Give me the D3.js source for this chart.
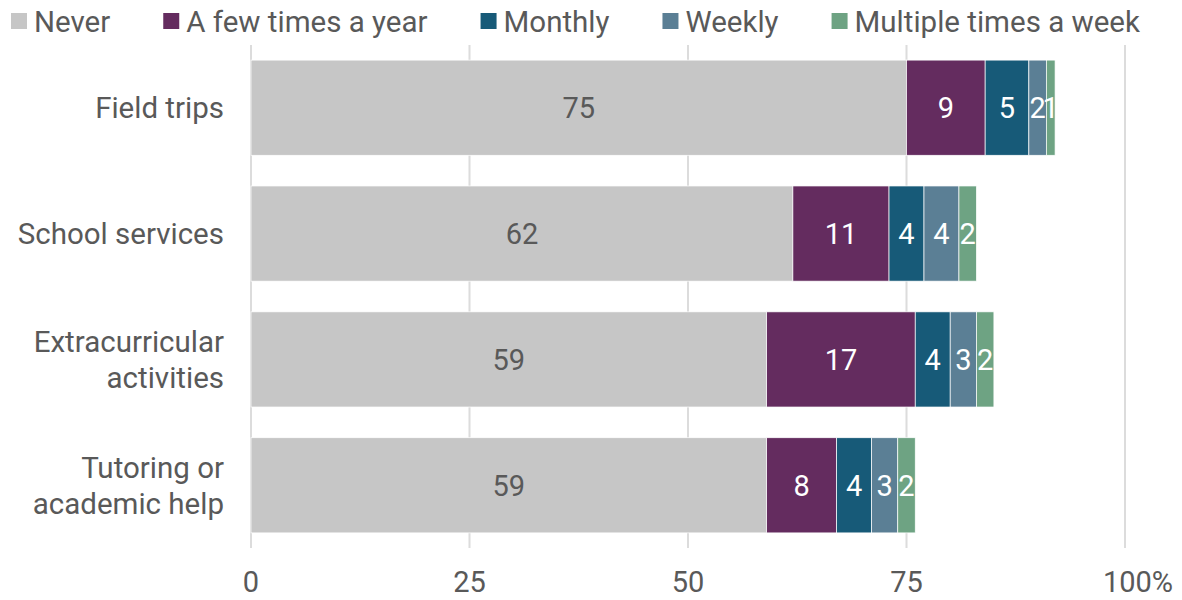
<!DOCTYPE html>
<html>
<head>
<meta charset="utf-8">
<script src="https://cdn.jsdelivr.net/npm/d3@7"></script>
<style>
	body { margin: 0; background: #fff; }
	svg { display: block; font-family: Roboto, sans-serif; }
</style>
</head>
<body>
<svg id="svg" width="1182" height="600"></svg>
<script>
// categories (top to bottom), label lines
const categories = ['Field trips', 'School services', 'Extracurricular activities', 'Tutoring or academic help'];
const categoryLines = [['Field trips'], ['School services'], ['Extracurricular', 'activities'], ['Tutoring or', 'academic help']];

// series
const seriesNames = ['Never', 'A few times a year', 'Monthly', 'Weekly', 'Multiple times a week'];
const seriesColors = ['#c6c6c6', '#642c5f', '#175a78', '#5b7f95', '#6ea383'];
const never = [75, 62, 59, 59];
const fewTimesYear = [9, 11, 17, 8];
const monthly = [5, 4, 4, 4];
const weekly = [2, 4, 3, 3];
const multipleWeek = [1, 2, 2, 2];

const xTicks = [0, 25, 50, 75, 100];
const textColor = '#595959';
const fontSize = 29.5;

const svg = d3.select('#svg');
const margin = { top: 45, left: 251, right: 57, bottom: 52 };
const W = 1182, H = 600;

const x = d3.scaleLinear().domain([0, 100]).range([margin.left, W - margin.right]);
const y = d3.scaleBand().domain(categories).range([margin.top, H - margin.bottom])
	.paddingInner(0.244).paddingOuter(0.12);

// rows for stacking
const rows = categories.map((c, i) => ({
	cat: c,
	'Never': never[i],
	'A few times a year': fewTimesYear[i],
	'Monthly': monthly[i],
	'Weekly': weekly[i],
	'Multiple times a week': multipleWeek[i]
}));
const stack = d3.stack().keys(seriesNames)(rows);

// gridlines
svg.append('g')
	.selectAll('line')
	.data(xTicks)
	.enter().append('line')
	.attr('x1', d => x(d)).attr('x2', d => x(d))
	.attr('y1', margin.top).attr('y2', H - margin.bottom)
	.attr('stroke', '#dcdcdc')
	.attr('stroke-width', 2);

// bars
const layers = svg.append('g')
	.selectAll('g')
	.data(stack)
	.enter().append('g')
	.attr('fill', (d, i) => seriesColors[i]);

layers.selectAll('rect')
	.data(d => d)
	.enter().append('rect')
	.attr('x', d => x(d[0]))
	.attr('width', d => x(d[1]) - x(d[0]))
	.attr('y', d => y(d.data.cat))
	.attr('height', y.bandwidth())
	.attr('stroke', '#fff')
	.attr('stroke-width', 0.7);

// value labels
stack.forEach((layer, si) => {
	svg.append('g')
		.selectAll('text')
		.data(layer)
		.enter().append('text')
		.attr('x', d => (x(d[0]) + x(d[1])) / 2)
		.attr('y', d => y(d.data.cat) + y.bandwidth() / 2)
		.attr('dy', '0.36em')
		.attr('text-anchor', 'middle')
		.attr('font-size', 29)
		.attr('fill', si === 0 ? textColor : '#fff')
		.text(d => d[1] - d[0]);
});

// x axis labels
svg.append('g')
	.selectAll('text')
	.data(xTicks)
	.enter().append('text')
	.attr('x', d => x(d) + (d === 100 ? 13 : 0))
	.attr('y', 592)
	.attr('text-anchor', 'middle')
	.attr('font-size', 29)
	.attr('fill', textColor)
	.text(d => d === 100 ? '100%' : d);

// category labels
const catLabels = svg.append('g')
	.selectAll('text')
	.data(categories)
	.enter().append('text')
	.attr('text-anchor', 'end')
	.attr('font-size', fontSize)
	.attr('fill', textColor);

catLabels.each(function (c, i) {
	const lines = categoryLines[i];
	const lh = 36;
	const cy = y(c) + y.bandwidth() / 2;
	const t = d3.select(this);
	lines.forEach((ln, j) => {
		t.append('tspan')
			.attr('x', 224)
			.attr('y', cy - (lines.length - 1) * lh / 2 + j * lh)
			.attr('dy', '0.36em')
			.text(ln);
	});
});

// legend
const legend = svg.append('g');
let lx = 11;
seriesNames.forEach((name, i) => {
	legend.append('rect')
		.attr('x', lx).attr('y', 13)
		.attr('width', 16).attr('height', 16)
		.attr('fill', seriesColors[i]);
	const t = legend.append('text')
		.attr('x', lx + 23).attr('y', 21)
		.attr('dy', '0.36em')
		.attr('font-size', fontSize)
		.attr('fill', textColor)
		.text(name);
	lx += 23 + t.node().getComputedTextLength() + 53;
});
</script>
</body>
</html>
